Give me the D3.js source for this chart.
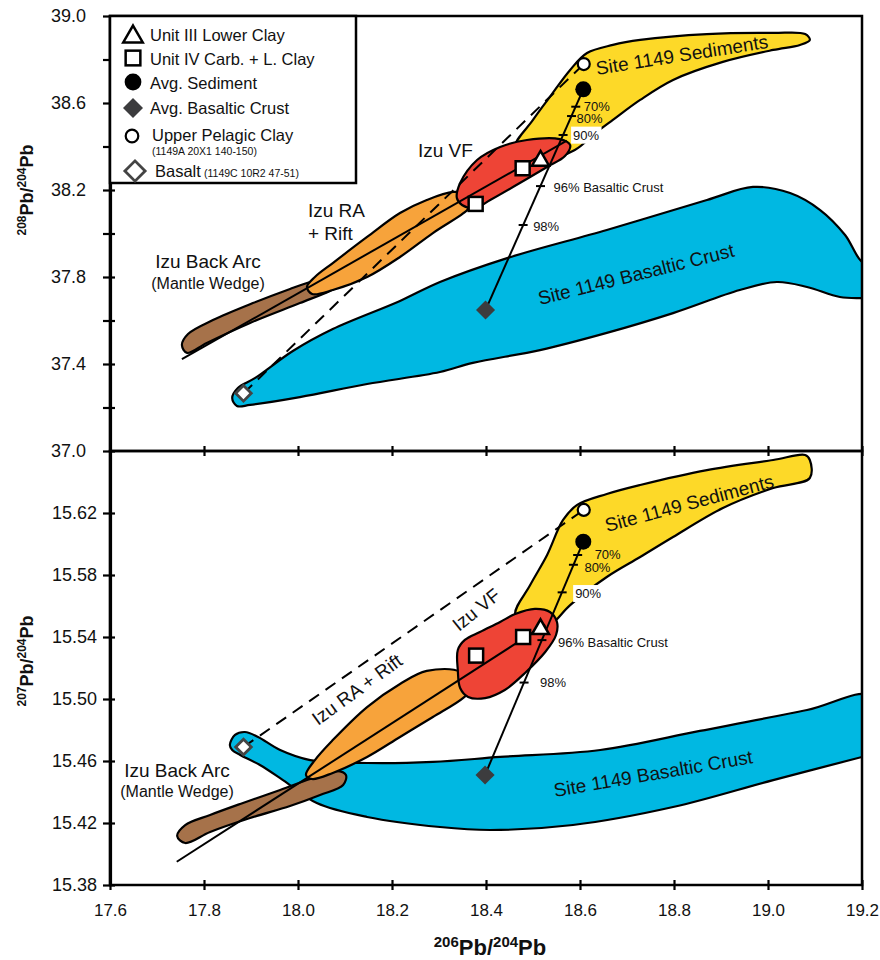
<!DOCTYPE html>
<html>
<head>
<meta charset="utf-8">
<script src="https://cdn.jsdelivr.net/npm/d3@7"></script>
<style>
body { margin: 0; background: #fff; }
svg text { font-family: "Liberation Sans", Arial, Helvetica, sans-serif; fill: #111; }
</style>
</head>
<body>
<div id="chart"></div>
<script>
//*********************** data ***********************************************

var x_ticks = [17.6, 17.8, 18.0, 18.2, 18.4, 18.6, 18.8, 19.0, 19.2];
var y_ticks_208 = [37.0, 37.2, 37.4, 37.6, 37.8, 38.0, 38.2, 38.4, 38.6, 38.8, 39.0];
var y_labels_208 = [37.0, 37.4, 37.8, 38.2, 38.6, 39.0];
var y_ticks_207 = [15.38, 15.42, 15.46, 15.50, 15.54, 15.58, 15.62];

// field outlines, [206Pb/204Pb, 208Pb/204Pb]
var crust_208 = [[17.860,37.244],[17.872,37.290],[17.909,37.336],[17.989,37.460],[18.074,37.561],
  [18.217,37.690],[18.302,37.777],[18.445,37.887],[18.657,38.016],[18.870,38.154],[18.968,38.214],
  [19.047,38.186],[19.111,38.108],[19.164,37.993],[19.200,37.869],[19.238,37.832],[19.238,37.703],
  [19.200,37.703],[19.153,37.708],[19.083,37.754],[19.019,37.777],[18.940,37.740],[18.798,37.634],
  [18.657,37.543],[18.515,37.464],[18.372,37.405],[18.302,37.363],[18.147,37.308],[18.004,37.248],
  [17.898,37.212],[17.870,37.207]];
var back_arc_208 = [[17.753,37.487],[17.766,37.538],[17.819,37.602],[17.904,37.680],[17.983,37.745],
  [18.026,37.777],[18.079,37.805],[18.094,37.768],[18.068,37.736],[18.004,37.680],[17.898,37.589],
  [17.806,37.497],[17.764,37.451]];
var rift_208 = [[18.019,37.754],[18.036,37.800],[18.074,37.864],[18.147,37.984],[18.217,38.094],
  [18.274,38.154],[18.330,38.191],[18.357,38.182],[18.366,38.131],[18.360,38.108],[18.287,38.002],
  [18.217,37.892],[18.147,37.800],[18.074,37.740],[18.030,37.722]];
var sed_208 = [[18.462,38.393],[18.500,38.522],[18.536,38.628],[18.579,38.752],[18.615,38.830],
  [18.670,38.867],[18.728,38.890],[18.870,38.917],[19.011,38.922],[19.079,38.917],[19.089,38.890],
  [19.068,38.867],[19.011,38.844],[18.904,38.789],[18.798,38.706],[18.728,38.614],[18.670,38.522],
  [18.636,38.467],[18.589,38.384],[18.536,38.347]];
var vf_208 = [[18.338,38.163],[18.345,38.232],[18.381,38.338],[18.430,38.398],[18.487,38.430],
  [18.557,38.434],[18.579,38.407],[18.568,38.356],[18.530,38.306],[18.472,38.232],[18.409,38.154],
  [18.377,38.117],[18.349,38.131]];

// field outlines, [206Pb/204Pb, 207Pb/204Pb]
var crust_207 = [[17.855,15.4703],[17.866,15.4768],[17.887,15.4787],[17.915,15.4755],[17.962,15.4671],
  [18.026,15.4606],[18.147,15.4587],[18.287,15.4594],[18.430,15.4626],[18.643,15.4671],[18.855,15.4794],
  [19.083,15.4929],[19.217,15.5019],[19.217,15.4639],[19.200,15.4626],[19.011,15.4477],[18.798,15.4303],
  [18.585,15.4187],[18.409,15.4155],[18.302,15.4174],[18.147,15.4239],[18.040,15.4329],[17.968,15.4477],
  [17.919,15.4574],[17.877,15.4639],[17.860,15.4671]];
var back_arc_207 = [[17.743,15.4116],[17.760,15.4187],[17.813,15.4252],[17.877,15.4323],[17.962,15.4413],
  [18.026,15.4484],[18.083,15.4535],[18.102,15.4510],[18.096,15.4445],[18.047,15.4381],[17.983,15.4310],
  [17.898,15.4232],[17.813,15.4142],[17.760,15.4071]];
var rift_207 = [[18.017,15.4510],[18.036,15.4606],[18.074,15.4735],[18.147,15.4948],[18.217,15.5097],
  [18.274,15.5181],[18.345,15.5174],[18.366,15.5058],[18.351,15.5006],[18.287,15.4884],[18.217,15.4755],
  [18.147,15.4626],[18.074,15.4523],[18.030,15.4484]];
var sed_207 = [[18.462,15.5542],[18.494,15.5735],[18.530,15.5929],[18.564,15.6155],[18.594,15.6252],
  [18.657,15.6323],[18.728,15.6381],[18.870,15.6477],[19.011,15.6542],[19.079,15.6574],[19.089,15.6542],
  [19.089,15.6426],[19.011,15.6361],[18.904,15.6232],[18.798,15.6045],[18.728,15.5916],[18.657,15.5787],
  [18.579,15.5606],[18.536,15.5477],[18.494,15.5445]];
var vf_207 = [[18.340,15.5316],[18.355,15.5381],[18.387,15.5432],[18.430,15.5497],[18.462,15.5548],
  [18.504,15.5581],[18.536,15.5561],[18.551,15.5497],[18.549,15.5413],[18.526,15.5303],[18.483,15.5168],
  [18.440,15.5058],[18.398,15.5006],[18.362,15.5013],[18.345,15.5071],[18.340,15.5187]];

// samples
var unit3_208 = [[18.516, 38.341]];
var unit4_208 = [[18.478, 38.300], [18.378, 38.136]];
var avg_sed_208 = [18.607, 38.663];
var avg_crust_208 = [18.399, 37.648];
var upc_208 = [18.608, 38.779];
var basalt_208 = [17.884, 37.265];

var unit3_207 = [[18.516, 15.546]];
var unit4_207 = [[18.479, 15.540], [18.379, 15.528]];
var avg_sed_207 = [18.607, 15.6015];
var avg_crust_207 = [18.398, 15.451];
var upc_207 = [18.608, 15.622];
var basalt_207 = [17.884, 15.469];

// Izu array line
var izu_line_208 = [[17.753, 37.422], [18.572, 38.427]];
var izu_line_207 = [[17.742, 15.395], [18.526, 15.548]];

// mixing ticks between average sediment and average basaltic crust
var mix_labels = ['70%', '80%', '90%', '96% Basaltic Crust', '98%'];
var mix_ticks_208 = [[18.591,38.583],[18.582,38.540],[18.564,38.453],[18.516,38.218],[18.479,38.039]];
var mix_ticks_207 = [[18.595,15.5929],[18.586,15.5866],[18.562,15.5688],[18.519,15.5380],[18.481,15.5106]];

var legend_labels = ['Unit III Lower Clay', 'Unit IV Carb. + L. Clay', 'Avg. Sediment',
  'Avg. Basaltic Crust', 'Upper Pelagic Clay', 'Basalt'];
var legend_notes = ['', '', '', '', '(1149A 20X1 140-150)', '(1149C 10R2 47-51)'];

//*********************** colours and layout ***************************

var c_crust = '#00b8e2';
var c_back_arc = '#a6724a';
var c_rift = '#f7a33b';
var c_sed = '#fdd928';
var c_vf = '#ee4436';
var c_dark = '#3c3c3e';

var chart_width = 880;
var chart_height = 960;
var plot_left = 110;
var plot_right = 862;

var svg = d3.select('#chart')
  .append('svg')
  .attr('width', chart_width)
  .attr('height', chart_height);

var x_scale = d3.scaleLinear()
  .domain([17.6, 19.2])
  .range([plot_left, plot_right]);

var panels = [
  {
    id: 'top', top: 16, bottom: 451, y_domain: [37.0, 39.0],
    y_ticks: y_ticks_208, label_pad: 17,
    y_format: function(d) {
      return y_labels_208.some(function(v){ return Math.abs(v - d) < 1e-6; }) ? d.toFixed(1) : '';
    },
    fields: [
      {pts: crust_208, fill: c_crust}, {pts: back_arc_208, fill: c_back_arc},
      {pts: rift_208, fill: c_rift}, {pts: sed_208, fill: c_sed}, {pts: vf_208, fill: c_vf}
    ],
    unit3: unit3_208, unit4: unit4_208, avg_sed: avg_sed_208, avg_crust: avg_crust_208,
    upc: upc_208, basalt: basalt_208, izu: izu_line_208, mix_ticks: mix_ticks_208,
    mix_dx: [8, 5, 10, 13, 10], mix_dy: [0, 2, 0, 1, 1],
    texts: [
      {t: 'Izu VF', x: 418, y: 157, size: 19},
      {t: 'Izu RA', x: 308, y: 217, size: 19},
      {t: '+ Rift', x: 308, y: 240, size: 19},
      {t: 'Izu Back Arc', x: 208, y: 268, size: 19, anchor: 'middle'},
      {t: '(Mantle Wedge)', x: 208, y: 289, size: 16, anchor: 'middle'},
      {t: 'Site 1149 Sediments', x: 597, y: 75, size: 19, rot: -9},
      {t: 'Site 1149 Basaltic Crust', x: 540, y: 305, size: 19, rot: -14}
    ]
  },
  {
    id: 'bottom', top: 451, bottom: 885, y_domain: [15.38, 15.66],
    y_ticks: y_ticks_207, label_pad: 6,
    y_format: function(d) { return d.toFixed(2); },
    fields: [
      {pts: crust_207, fill: c_crust}, {pts: back_arc_207, fill: c_back_arc},
      {pts: rift_207, fill: c_rift}, {pts: sed_207, fill: c_sed}, {pts: vf_207, fill: c_vf}
    ],
    unit3: unit3_207, unit4: unit4_207, avg_sed: avg_sed_207, avg_crust: avg_crust_207,
    upc: upc_207, basalt: basalt_207, izu: izu_line_207, mix_ticks: mix_ticks_207,
    mix_dx: [17, 11, 13, 16, 16], mix_dy: [-1, 3, 1, 2, 0],
    texts: [
      {t: 'Izu VF', x: 459, y: 632, size: 19, rot: -39},
      {t: 'Izu RA + Rift', x: 318, y: 726, size: 19, rot: -36},
      {t: 'Izu Back Arc', x: 177, y: 777, size: 19, anchor: 'middle'},
      {t: '(Mantle Wedge)', x: 177, y: 797, size: 16, anchor: 'middle'},
      {t: 'Site 1149 Sediments', x: 607, y: 532, size: 19, rot: -15},
      {t: 'Site 1149 Basaltic Crust', x: 555, y: 797, size: 19, rot: -9.7}
    ]
  }
];

//*********************** markers ***************************

function drawMarker(g, type, cx, cy, k) {
  k = k || 1;
  if (type === 'tri') {
    var s = 17 * k, h = s * 0.866;
    g.append('path')
      .attr('d', 'M0,' + (-h / 2) + 'L' + (s / 2) + ',' + (h / 2) + 'L' + (-s / 2) + ',' + (h / 2) + 'Z')
      .attr('transform', 'translate(' + cx + ',' + cy + ')')
      .attr('fill', '#fff').attr('stroke', '#000').attr('stroke-width', 2.5)
      .attr('stroke-linejoin', 'miter');
  } else if (type === 'sq') {
    var a = 14 * k;
    g.append('rect')
      .attr('x', cx - a / 2).attr('y', cy - a / 2).attr('width', a).attr('height', a)
      .attr('fill', '#fff').attr('stroke', '#000').attr('stroke-width', 2.5);
  } else if (type === 'dot') {
    g.append('circle').attr('cx', cx).attr('cy', cy).attr('r', 8 * k).attr('fill', '#000');
  } else if (type === 'ring') {
    g.append('circle').attr('cx', cx).attr('cy', cy).attr('r', 6 * k)
      .attr('fill', '#fff').attr('stroke', '#000').attr('stroke-width', 2.2);
  } else if (type === 'dia') {
    var b = 13.5 * k;
    g.append('rect')
      .attr('x', -b / 2).attr('y', -b / 2).attr('width', b).attr('height', b)
      .attr('transform', 'translate(' + cx + ',' + cy + ') rotate(45)')
      .attr('fill', c_dark);
  } else if (type === 'odia') {
    var c = 11 * k;
    g.append('rect')
      .attr('x', -c / 2).attr('y', -c / 2).attr('width', c).attr('height', c)
      .attr('transform', 'translate(' + cx + ',' + cy + ') rotate(45)')
      .attr('fill', '#fff').attr('stroke', '#444').attr('stroke-width', 2.8);
  }
}

//*********************** panels ***************************

panels.forEach(function(p) {
  var y_scale = d3.scaleLinear()
    .domain(p.y_domain)
    .range([p.bottom, p.top]);

  var px = function(d) { return x_scale(d[0]); };
  var py = function(d) { return y_scale(d[1]); };

  var g = svg.append('g').attr('class', 'panel-' + p.id);

  svg.append('clipPath')
    .attr('id', 'clip-' + p.id)
    .append('rect')
    .attr('x', plot_left)
    .attr('y', p.top)
    .attr('width', plot_right - plot_left)
    .attr('height', p.bottom - p.top);

  var inner = g.append('g').attr('clip-path', 'url(#clip-' + p.id + ')');

  // fields
  var outline = d3.line()
    .x(px).y(py)
    .curve(d3.curveCatmullRomClosed.alpha(0.5));

  inner.selectAll('path.field')
    .data(p.fields)
    .enter()
    .append('path')
    .attr('class', 'field')
    .attr('d', function(d) { return outline(d.pts); })
    .attr('fill', function(d) { return d.fill; })
    .attr('stroke', '#000')
    .attr('stroke-width', 2.2)
    .attr('stroke-linejoin', 'round');

  var seg = d3.line().x(px).y(py);

  // Izu array
  inner.append('path')
    .attr('d', seg(p.izu))
    .attr('fill', 'none').attr('stroke', '#000').attr('stroke-width', 2);

  // basalt to upper pelagic clay
  inner.append('path')
    .attr('d', seg([p.basalt, p.upc]))
    .attr('fill', 'none').attr('stroke', '#000').attr('stroke-width', 2)
    .attr('stroke-dasharray', '12,8');

  // mixing line
  inner.append('path')
    .attr('d', seg([p.avg_sed, p.avg_crust]))
    .attr('fill', 'none').attr('stroke', '#000').attr('stroke-width', 2);

  inner.selectAll('line.mix-tick')
    .data(p.mix_ticks)
    .enter()
    .append('line')
    .attr('class', 'mix-tick')
    .attr('x1', function(d) { return px(d) - 4.5; })
    .attr('x2', function(d) { return px(d) + 4.5; })
    .attr('y1', py).attr('y2', py)
    .attr('stroke', '#000').attr('stroke-width', 2);

  var mix_text = inner.selectAll('text.mix')
    .data(p.mix_ticks)
    .enter()
    .append('text')
    .attr('class', 'mix')
    .attr('x', function(d, i) { return px(d) + p.mix_dx[i]; })
    .attr('y', function(d, i) { return py(d) + p.mix_dy[i]; })
    .attr('dy', '0.36em')
    .attr('font-size', '13px')
    .text(function(d, i) { return mix_labels[i]; });

  // white box behind 90%
  mix_text.filter(function(d, i) { return i === 2; }).each(function() {
    var bb = this.getBBox();
    d3.select(this.parentNode).insert('rect', function() { return this; }.bind(this))
      .attr('x', bb.x - 2).attr('y', bb.y - 1)
      .attr('width', bb.width + 4).attr('height', bb.height + 2)
      .attr('fill', '#fff');
  });

  // samples
  var marks = inner.append('g');
  p.unit4.forEach(function(d) { drawMarker(marks, 'sq', px(d), py(d)); });
  p.unit3.forEach(function(d) { drawMarker(marks, 'tri', px(d), py(d) - 1); });
  drawMarker(marks, 'dot', px(p.avg_sed), py(p.avg_sed));
  drawMarker(marks, 'dia', px(p.avg_crust), py(p.avg_crust));
  drawMarker(marks, 'ring', px(p.upc), py(p.upc));
  drawMarker(marks, 'odia', px(p.basalt), py(p.basalt));

  // field names
  inner.selectAll('text.name')
    .data(p.texts)
    .enter()
    .append('text')
    .attr('class', 'name')
    .attr('transform', function(d) {
      return 'translate(' + d.x + ',' + d.y + ')' + (d.rot ? ' rotate(' + d.rot + ')' : '');
    })
    .attr('font-size', function(d) { return d.size + 'px'; })
    .attr('text-anchor', function(d) { return d.anchor || 'start'; })
    .text(function(d) { return d.t; });

  // frame
  g.append('rect')
    .attr('x', plot_left).attr('y', p.top)
    .attr('width', plot_right - plot_left).attr('height', p.bottom - p.top)
    .attr('fill', 'none').attr('stroke', '#000').attr('stroke-width', 2.5);

  // y axis (ticks cross the axis line)
  var y_axis = d3.axisLeft(y_scale)
    .tickValues(p.y_ticks)
    .tickSizeInner(7).tickSizeOuter(0)
    .tickPadding(p.label_pad)
    .tickFormat(p.y_format);
  var ya = g.append('g')
    .attr('transform', 'translate(' + plot_left + ',0)')
    .call(y_axis);
  ya.select('.domain').attr('stroke-width', 3.2);
  ya.selectAll('.tick line').attr('stroke-width', 2.2);
  ya.selectAll('.tick text').attr('font-size', '18px').attr('font-family', null).attr('fill', '#111');

  var ya_in = g.append('g')
    .attr('transform', 'translate(' + plot_left + ',0)')
    .call(d3.axisLeft(y_scale).tickValues(p.y_ticks).tickSize(-5).tickFormat(''));
  ya_in.select('.domain').remove();
  ya_in.selectAll('.tick line').attr('stroke-width', 2.2);

  // x ticks along the panel's lower edge
  var xa_out = g.append('g')
    .attr('transform', 'translate(0,' + p.bottom + ')')
    .call(d3.axisBottom(x_scale).tickValues(x_ticks).tickSizeInner(5).tickSizeOuter(0)
      .tickPadding(14)
      .tickFormat(p.id === 'bottom' ? d3.format('.1f') : ''));
  xa_out.select('.domain').remove();
  xa_out.selectAll('.tick line').attr('stroke-width', 2.2);
  xa_out.selectAll('.tick text').attr('font-size', '17px').attr('font-family', null).attr('fill', '#111');

  var xa_in = g.append('g')
    .attr('transform', 'translate(0,' + p.bottom + ')')
    .call(d3.axisBottom(x_scale).tickValues(x_ticks).tickSize(-5).tickFormat(''));
  xa_in.select('.domain').remove();
  xa_in.selectAll('.tick line').attr('stroke-width', 2.2);
});

//*********************** legend ***************************

var legend = svg.append('g').attr('class', 'legend');
legend.append('rect')
  .attr('x', plot_left).attr('y', 16)
  .attr('width', 246).attr('height', 167)
  .attr('fill', '#fff').attr('stroke', '#000').attr('stroke-width', 2.5);

var legend_types = ['tri', 'sq', 'dot', 'dia', 'ring', 'odia'];
var legend_marker_y = [34, 58, 82, 108, 136, 171];
var legend_marker_x = [133, 133, 133, 133, 132, 135];
var legend_text_x = [150, 150, 150, 150, 152, 155];
var legend_text_y = [41, 65, 89, 114, 141, 177];

legend_types.forEach(function(t, i) {
  drawMarker(legend, t, legend_marker_x[i], legend_marker_y[i], t === 'tri' ? 1.15 : (t === 'odia' ? 1.3 : 1.05));
});

legend.selectAll('text.item')
  .data(legend_labels)
  .enter()
  .append('text')
  .attr('class', 'item')
  .attr('x', function(d, i) { return legend_text_x[i]; })
  .attr('y', function(d, i) { return legend_text_y[i]; })
  .attr('font-size', '16.5px')
  .text(function(d) { return d; });

legend.append('text')
  .attr('x', 152).attr('y', 155)
  .attr('font-size', '10.5px')
  .text(legend_notes[4]);
legend.append('text')
  .attr('x', 204).attr('y', 177)
  .attr('font-size', '10.5px')
  .text(legend_notes[5]);

//*********************** axis titles ***************************

function isoTitle(sel, mass, size, sup) {
  sel.append('tspan').attr('font-size', sup + 'px').attr('dy', -size * 0.38).text(mass);
  sel.append('tspan').attr('font-size', size + 'px').attr('dy', size * 0.38).text('Pb/');
  sel.append('tspan').attr('font-size', sup + 'px').attr('dy', -size * 0.38).text('204');
  sel.append('tspan').attr('font-size', size + 'px').attr('dy', size * 0.38).text('Pb');
}

var t208 = svg.append('text')
  .attr('transform', 'translate(33,190) rotate(-90)')
  .attr('text-anchor', 'middle')
  .attr('font-weight', 'bold');
isoTitle(t208, '208', 18, 12);

var t207 = svg.append('text')
  .attr('transform', 'translate(33,661) rotate(-90)')
  .attr('text-anchor', 'middle')
  .attr('font-weight', 'bold');
isoTitle(t207, '207', 18, 12);

var t206 = svg.append('text')
  .attr('x', 490).attr('y', 955)
  .attr('text-anchor', 'middle')
  .attr('font-weight', 'bold');
isoTitle(t206, '206', 22, 15);
</script>
</body>
</html>
